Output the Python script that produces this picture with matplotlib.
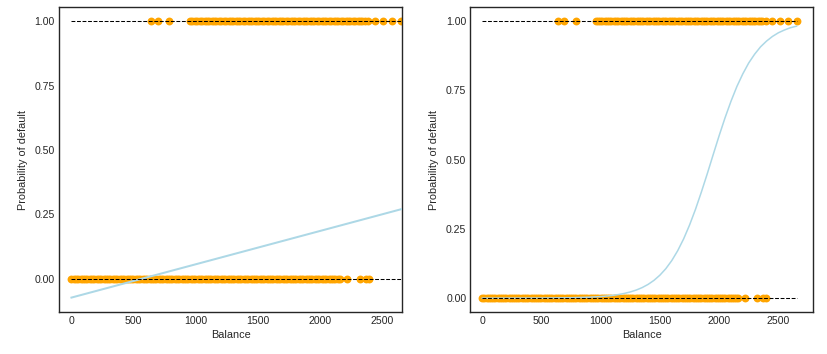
"""Default data: linear vs logistic fit of default probability on balance."""
import matplotlib
matplotlib.use("Agg")
import matplotlib.pyplot as plt

# balances of customers that defaulted (y = 1) and did not (y = 0)
balance_default = [640, 694, 790, 957, 975, 996, 1015, 1034, 1052, 1073, 1091,
                   1110, 1131, 1150, 1168, 1188, 1207, 1226, 1245, 1266, 1284,
                   1303, 1322, 1343, 1361, 1380, 1400, 1419, 1438, 1457, 1477,
                   1496, 1515, 1534, 1554, 1573, 1592, 1612, 1631, 1650, 1669,
                   1689, 1708, 1727, 1746, 1766, 1785, 1804, 1824, 1843, 1862,
                   1881, 1901, 1920, 1939, 1958, 1978, 1997, 2016, 2036, 2055,
                   2074, 2093, 2113, 2132, 2151, 2170, 2190, 2209, 2228, 2248,
                   2267, 2286, 2305, 2325, 2344, 2363, 2392, 2449, 2514, 2584,
                   2654]
balance_no_default = [0, 18, 37, 55, 74, 92, 111, 129, 148, 166, 185, 203, 222,
                      240, 259, 277, 296, 314, 333, 351, 370, 388, 407, 425,
                      444, 462, 481, 499, 518, 536, 555, 573, 592, 610, 629,
                      647, 666, 684, 703, 721, 740, 758, 777, 795, 814, 832,
                      851, 869, 888, 906, 925, 943, 962, 980, 999, 1017, 1036,
                      1054, 1073, 1091, 1110, 1128, 1147, 1165, 1184, 1202,
                      1221, 1239, 1258, 1276, 1295, 1313, 1332, 1350, 1369,
                      1387, 1406, 1424, 1443, 1461, 1480, 1498, 1517, 1535,
                      1554, 1572, 1591, 1609, 1628, 1646, 1665, 1683, 1702,
                      1720, 1739, 1757, 1776, 1794, 1813, 1831, 1850, 1868,
                      1887, 1905, 1924, 1942, 1961, 1979, 1998, 2016, 2035,
                      2053, 2072, 2090, 2109, 2127, 2146, 2162, 2221, 2323,
                      2370, 2395]

# fitted linear regression line (left)
linear_x = [0, 2664]
linear_p = [-0.073, 0.271]

# fitted logistic curve (right)
logit_x = [0, 250, 500, 750, 900, 1000, 1050, 1100, 1150, 1200, 1250, 1300,
           1350, 1400, 1450, 1500, 1550, 1600, 1650, 1700, 1750, 1800, 1850,
           1900, 1950, 2000, 2050, 2100, 2150, 2200, 2250, 2300, 2350, 2400,
           2450, 2500, 2550, 2600, 2654]
logit_p = [0.0000, 0.0001, 0.0004, 0.0015, 0.0033, 0.0058, 0.0076, 0.0099,
           0.0130, 0.0171, 0.0224, 0.0292, 0.0381, 0.0496, 0.0643, 0.0830,
           0.1064, 0.1355, 0.1711, 0.2136, 0.2635, 0.3200, 0.3827, 0.4490,
           0.5179, 0.5860, 0.6506, 0.7100, 0.7634, 0.8090, 0.8483, 0.8800,
           0.9065, 0.9270, 0.9438, 0.9570, 0.9668, 0.9750, 0.9810]

yticks = [0, 0.25, 0.5, 0.75, 1.0]

plt.rcParams["font.family"] = ["Liberation Sans", "DejaVu Sans"]
dark = "#262626"

fig = plt.figure(figsize=(8.28, 3.54), dpi=100)
ax1 = fig.add_axes([0.0713, 0.1186, 0.4143, 0.8616])
ax2 = fig.add_axes([0.5682, 0.1186, 0.4133, 0.8616])

# left: linear regression
ax1.scatter(balance_default, [1] * len(balance_default), s=32, color="orange", linewidths=0, zorder=2)
ax1.scatter(balance_no_default, [0] * len(balance_no_default), s=32, color="orange", linewidths=0, zorder=2)
ax1.plot(linear_x, linear_p, color="lightblue", lw=1.45, zorder=3)
ax1.set_xlim(-100, 2664)
ax1.set_ylim(-0.129, 1.055)

# right: logistic regression
ax2.scatter(balance_default, [1] * len(balance_default), s=32, color="orange", linewidths=0, zorder=2)
ax2.scatter(balance_no_default, [0] * len(balance_no_default), s=32, color="orange", linewidths=0, zorder=2)
ax2.plot(logit_x, logit_p, color="lightblue", lw=1.1, zorder=3)
ax2.set_xlim(-100, 2790)
ax2.set_ylim(-0.05, 1.05)

for ax, xmax in [(ax1, 2664), (ax2, 2654)]:
    ax.hlines(1, xmin=0, xmax=xmax, linestyles="dashed", lw=0.75, color="black", zorder=4)
    ax.hlines(0, xmin=0, xmax=xmax, linestyles="dashed", lw=0.75, color="black", zorder=4)
    ax.set_yticks(yticks)
    ax.set_yticklabels(["%.2f" % t for t in yticks])
    ax.set_xticks([0, 500, 1000, 1500, 2000, 2500])
    ax.tick_params(length=0, pad=3, labelsize=7.6, colors=dark)
    ax.set_xlabel("Balance", fontsize=7.8, color=dark, labelpad=3)
    ax.set_ylabel("Probability of default", fontsize=7.8, color=dark, labelpad=5)
    for sp in ax.spines.values():
        sp.set_color(dark)
        sp.set_linewidth(1.0)

fig.savefig("out.png", dpi=100)
